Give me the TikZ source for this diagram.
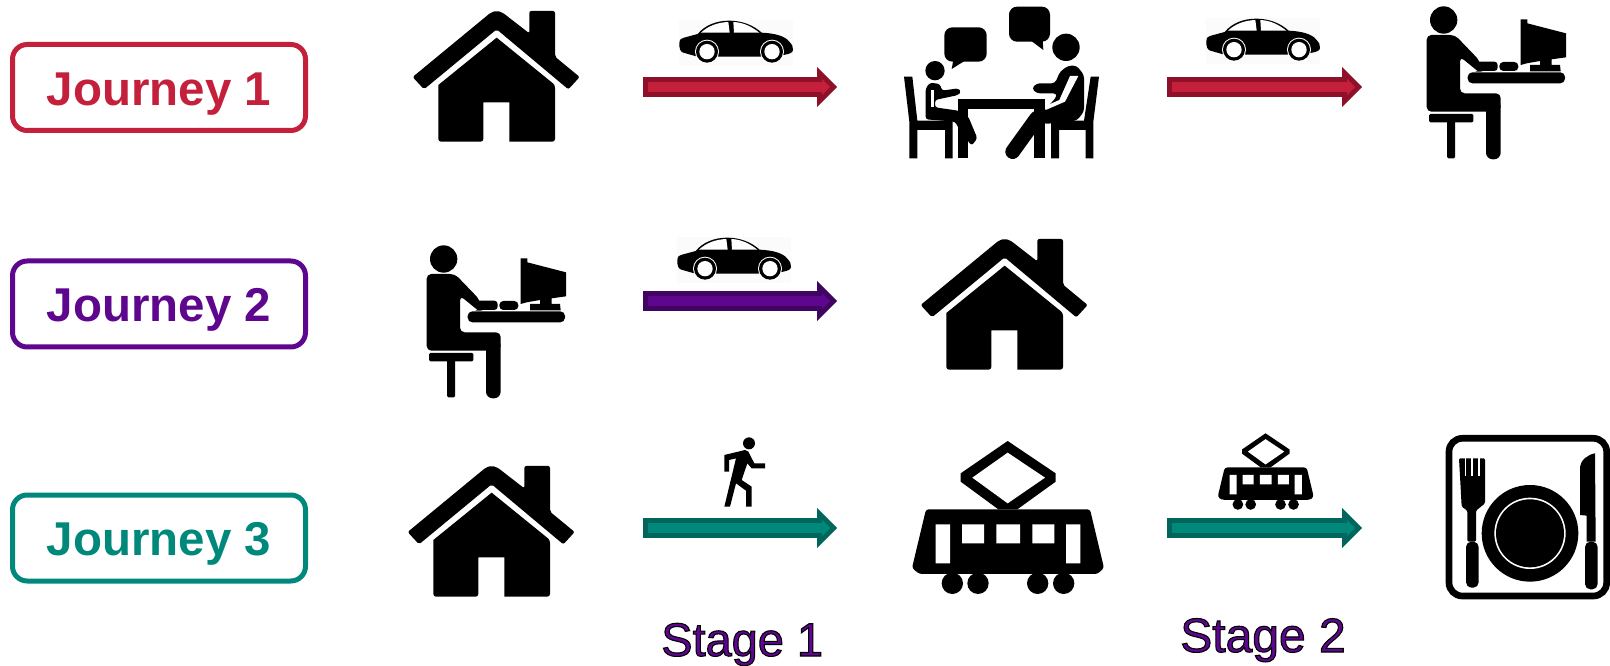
\documentclass[tikz,border=0pt]{standalone}
\usepackage{fontspec}
\setmainfont{Liberation Sans}
\usetikzlibrary{arrows.meta,positioning}
\definecolor{JRed}{HTML}{C41F3B}
\definecolor{JRedDark}{HTML}{8E1129}
\definecolor{JPurple}{HTML}{5F068F}
\definecolor{JPurpleDark}{HTML}{3F0560}
\definecolor{JTeal}{HTML}{00897B}
\definecolor{JTealDark}{HTML}{00665C}
\definecolor{Pale}{HTML}{FBFBFB}
\newcommand{\outlined}[1]{\special{pdf:code 2 Tr 0.8 w 0 0 0 RG}#1\special{pdf:code 0 Tr}}
\tikzset{
  jbox/.style={rectangle,rounded corners=11pt,draw=#1,text=#1,fill=white,line width=3.75pt,minimum width=219.75pt,minimum height=64.5pt,inner sep=0pt,text height=26.3pt,text depth=0pt,font=\fontsize{35.6}{40}\selectfont\bfseries},
  stagelab/.style={inner sep=0pt,anchor=base west,text=JPurple},
  stage/.style 2 args={line width=15pt,draw=#2,-{Triangle[length=15pt,width=30pt,line width=0pt]},
    postaction={draw=#1,line width=7.5pt,shorten <=3.75pt,shorten >=5.25pt,-{Triangle[length=6pt,width=12pt,line width=0pt]}}},
  icon/.style={scale=1/3},
  smallicon/.style={scale=1/6},
  pics/house/.style={code={
    \fill[rounded corners=1.5pt] (272,38) -- (38,231) -- (72,268) -- (290,88) -- (505,268) -- (539,231) -- (465,170) -- (465,33) -- (388,33) -- (388,100) -- (308,38) -- (290,32) -- cycle;
    \fill (290,113) -- (115,255) [rounded corners=2pt] -- (115,425) -- (250,425) [sharp corners] -- (250,307) -- (328,307) -- (328,425) [rounded corners=2pt] -- (465,425) -- (465,255) [sharp corners] -- cycle;
  }},
  pics/car/.style={code={
    \fill[Pale] (837,60) rectangle (1180,197);
    \fill (838,130) .. controls (838,118) and (845,114) .. (852,113) -- (893,102) .. controls (915,75) and (950,62) .. (988,62) .. controls (1025,62) and (1060,75) .. (1085,98) .. controls (1125,100) and (1155,108) .. (1168,125) .. controls (1176,134) and (1180,140) .. (1179,150) .. controls (1178,158) and (1170,162) .. (1150,165) -- (1090,170) -- (950,170) -- (885,168) -- (850,158) .. controls (840,155) and (838,145) .. (838,130) -- cycle;
    \fill[white] (903,98) .. controls (925,77) and (955,67) .. (985,66) -- (989,98) -- cycle;
    \fill[white] (1000,66) .. controls (1030,67) and (1055,80) .. (1078,98) -- (1002,98) -- cycle;
    \foreach \wx in {921,1116} {
      \fill[white] (\wx,155) circle[radius=36];
      \fill (\wx,155) circle[radius=33];
      \fill[white] (\wx,155) circle[radius=23];
    }
  }},
  pics/desk/.style={code={
    \fill (131,60) circle[radius=41];
    \fill[rounded corners=3.5pt] (80,335) -- (80,105) -- (165,105) -- (240,183) -- (240,215) -- (235,215) -- (180,170) -- (180,280) -- (302,280) -- (302,335) -- cycle;
    \fill[rounded corners=2.5pt] (225,185) rectangle (293,213);
    \fill[rounded corners=5pt] (258,300) -- (258,478) -- (302,478) -- (302,300) [sharp corners] -- cycle;
    \fill[rounded corners=3pt] (298,186) rectangle (355,213);
    \fill[rounded corners=3.5pt] (203,217) rectangle (495,250);
    \fill (362,58) -- (382,58) -- (382,70) -- (498,100) -- (498,172) -- (455,178) -- (455,195) -- (480,195) -- (482,214) -- (390,214) -- (390,195) -- (420,195) -- (420,183) -- (380,190) -- (362,195) -- cycle;
    \fill[rounded corners=1pt] (87,342) rectangle (220,367);
    \fill[rounded corners=1pt] (141,360) rectangle (165,475);
  }},
  pics/meeting/.style={code={
    % chairs and table
    \fill (72,230) -- (97,230) -- (112,362) -- (218,362) -- (218,475) -- (195,475) -- (195,390) -- (112,390) -- (112,475) -- (88,475) -- (88,365) -- cycle;
    \fill (657,230) -- (632,230) -- (612,362) -- (513,362) -- (513,475) -- (537,475) -- (537,390) -- (617,390) -- (617,475) -- (640,475) -- (640,365) -- cycle;
    \fill (235,297) rectangle (495,328);
    \fill (235,328) rectangle (265,475);
    \fill (463,328) rectangle (495,475);
    % left sitter
    \fill (165,212) circle[radius=29];
    \fill[rounded corners=2pt] (137,265) -- (150,248) -- (180,252) -- (186,272) -- (235,265) -- (243,275) -- (235,285) -- (165,300) -- (165,322) -- (235,332) -- (265,350) -- (292,415) -- (275,437) -- (245,400) -- (225,365) -- (137,358) -- cycle;
    \fill[white] (153,270) rectangle (163,322);
    % right sitter
    \fill (558,142) circle[radius=41];
    \fill[rounded corners=2.5pt] (540,215) -- (565,197) -- (590,197) -- (612,225) -- (612,335) -- (590,362) -- (495,372) -- (470,360) -- (495,330) -- (530,290) -- (530,280) -- (470,280) -- (455,265) -- (470,250) -- (525,250) -- cycle;
    \fill[white] (570,228) -- (595,228) -- (555,305) -- (497,330) -- (497,318) -- (538,300) -- cycle;
    \draw[line width=11pt,line cap=round] (470,355) -- (398,455);
    % bubbles
    \fill[rounded corners=6pt] (193,82) rectangle (320,185);
    \fill (220,180) -- (215,207) -- (258,180) -- cycle;
    \fill[rounded corners=6pt] (387,20) rectangle (510,125);
    \fill (450,120) -- (490,150) -- (488,120) -- cycle;
  }},
  pics/tram/.style={code={
    \fill (323,33) -- (467,130) -- (467,155) -- (352,238) -- (295,238) -- (182,155) -- (182,130) -- cycle;
    \fill[white] (323,68) -- (435,143) -- (323,220) -- (217,143) -- cycle;
    \fill[rounded corners=2pt] (78,238) -- (570,238) -- (612,414) -- (592,432) -- (58,432) -- (36,414) -- cycle;
    \fill[white] (107,283) rectangle (150,400) (186,283) rectangle (252,340) (289,283) rectangle (360,340) (397,283) rectangle (463,340) (498,283) rectangle (541,400);
    \foreach \wx in {157,234,413,491} \fill (\wx,460) circle[radius=32];
  }},
  pics/walker/.style={code={
    \fill (357,70) circle[radius=18];
    \fill (283,105) -- (345,90) -- (355,95) -- (373,130) -- (405,130) -- (405,145) -- (365,145) -- (352,130) -- (335,180) -- (365,200) -- (365,260) -- (348,260) -- (348,212) -- (318,190) -- (300,260) -- (283,260) -- (318,115) -- (297,120) -- (297,155) -- (283,155) -- cycle;
  }},
  pics/plate/.style={code={
    \draw[line width=5pt,rounded corners=10pt] (57,40) rectangle (530,513);
    \fill (300,325) circle[radius=145];
    \fill[white] (300,325) circle[radius=107];
    \fill (300,325) circle[radius=102];
    % fork
    \fill[rounded corners=1pt] (87,100) -- (165,100) -- (165,235) -- (138,257) -- (138,350) -- (112,350) -- (112,257) -- (95,245) -- cycle;
    \fill[rounded corners=4pt] (108,350) rectangle (146,488);
    \foreach \tx in {106,126,146} \fill[white] (\tx-2.5,98) rectangle (\tx+2.5,152);
    % knife
    \fill (495,85) -- (497,350) -- (470,350) -- (470,272) -- (450,270) -- (450,125) .. controls (452,105) and (475,88) .. (495,85) -- cycle;
    \fill[rounded corners=4pt] (465,350) rectangle (503,493);
  }}
}
\begin{document}
\begin{tikzpicture}[x=.75pt,y=-.75pt]
  \useasboundingbox (0,0) rectangle (1610,666);
  \node[jbox=JRed] (j1) at (159,87.5) {Journey 1};
  \node[jbox=JPurple] (j2) at (159,304) {Journey 2};
  \node[jbox=JTeal] (j3) at (159,538) {Journey 3};
  % row 1
  \pic[icon] (home1) at (400,0) {house};
  \pic[icon] (car1) at (400,0) {car};
  \pic[icon] (meet1) at (880,0) {meeting};
  \pic[icon] (car2) at (927,-2) {car};
  \pic[icon] (desk1) at (1400,0) {desk};
  % row 2
  \pic[icon] (desk2) at (400,239) {desk};
  \pic[icon] (car3) at (398,217) {car};
  \pic[icon] (home2) at (908,228) {house};
  % row 3
  \pic[icon] (home3) at (395,455) {house};
  \pic[icon] (walk1) at (630,420) {walker};
  \pic[icon] (tram1) at (900,430) {tram};
  \pic[smallicon] (tram2) at (1211.7,427.8) {tram};
  \pic[icon] (plate1) at (1430,425) {plate};
  % arrow ends
  \coordinate (a1s) at (643,87);
  \coordinate (a1e) at (837,87);
  \coordinate (a2s) at (1167,87);
  \coordinate (a2e) at (1362,87);
  \coordinate (a3s) at (643,301);
  \coordinate (a3e) at (837,301);
  \coordinate (a4s) at (643,528);
  \coordinate (a4e) at (837,528);
  \coordinate (a5s) at (1167,528);
  \coordinate (a5e) at (1362,528);
  \draw[stage={JRed}{JRedDark}] (a1s) -- (a1e);
  \draw[stage={JRed}{JRedDark}] (a2s) -- (a2e);
  \draw[stage={JPurple}{JPurpleDark}] (a3s) -- (a3e);
  \draw[stage={JTeal}{JTealDark}] (a4s) -- (a4e);
  \draw[stage={JTeal}{JTealDark}] (a5s) -- (a5e);
  \node[stagelab,font=\fontsize{35.2}{40}\selectfont] (s1) at (661,656) {\outlined{Stage 1}};
  \node[stagelab,font=\fontsize{36}{40}\selectfont] (s2) at (1180,652) {\outlined{Stage 2}};
\end{tikzpicture}
\end{document}
